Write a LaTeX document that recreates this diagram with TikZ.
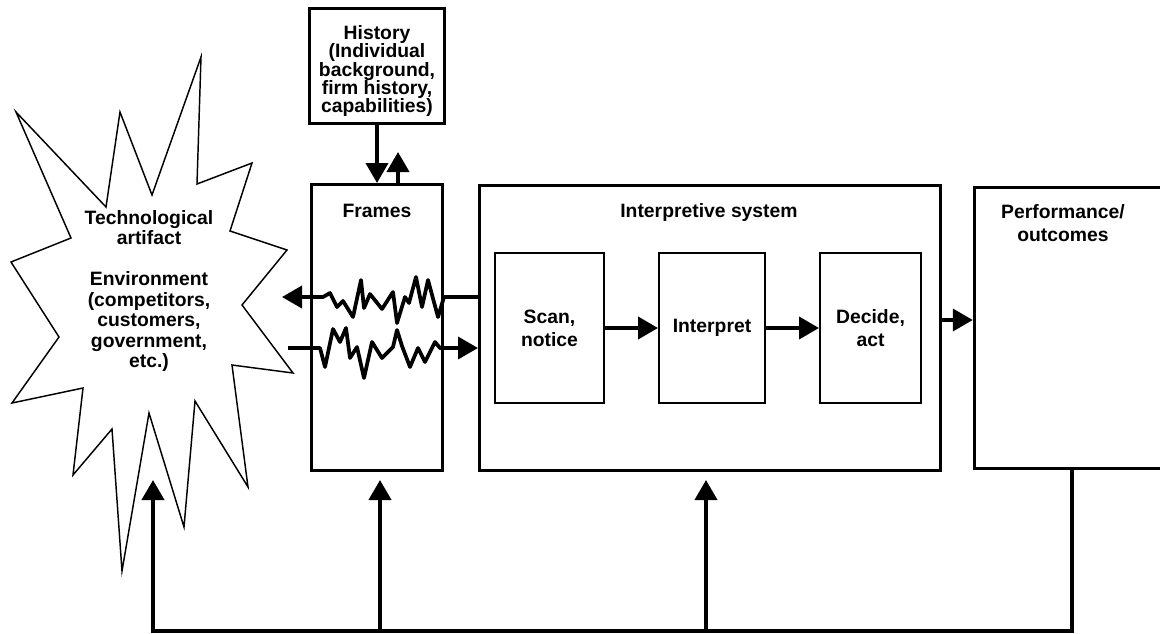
\documentclass[tikz,border=0pt]{standalone}
\usepackage{fontspec}
\setmainfont{Liberation Sans}
\usetikzlibrary{arrows.meta,calc}
\begin{document}
\begin{tikzpicture}[x=0.75pt,y=-0.75pt,
  bx/.style={draw, line width=2.25pt, rectangle, inner sep=0pt},
  ibx/.style={draw, line width=1.5pt, rectangle, inner sep=0pt},
  txt/.style={font=\fontsize{14.5}{17.25}\selectfont\bfseries, align=center, inner sep=0pt},
  arr/.style={line width=3pt, -{Triangle[width=16.5pt,length=15pt]}},
  ln/.style={line width=3pt},
  zz/.style={line width=2.8pt, line join=round},
  burst/.style={draw, line width=1.1pt, line join=miter, miter limit=20},
]
\useasboundingbox (0,0) rectangle (1160,633);
\clip (0,0) rectangle (1160,633);

% starburst (environment)
\draw[burst] (201,57) -- (197,184) -- (252,163) -- (230,231) -- (287,250) -- (242,305)
  -- (293,373) -- (232,365) -- (248,487) -- (195,401) -- (184,527) -- (149,413)
  -- (122,571) -- (112,429) -- (73,475) -- (83,388) -- (12,403) -- (59,337)
  -- (11,262) -- (71,238) -- (16,112) -- (106,207) -- (120,112) -- (152,195) -- cycle;
\node[txt, font=\fontsize{14.5}{15.4}\selectfont\bfseries] (env) at (149,291)
  {Technological\\artifact\\[15.4pt]Environment\\(competitors,\\customers,\\government,\\etc.)};

% boxes
\node[bx, minimum width=101.25pt, minimum height=86.25pt] (hist) at (377,66) {};
\node[txt, font=\fontsize{14.5}{13.6}\selectfont\bfseries] (histt) at (377,71)
  {History\\(Individual\\background,\\firm history,\\capabilities)};

\node[bx, minimum width=98.25pt, minimum height=214.5pt] (frames) at (377,327.5) {};
\node[txt] (framest) at (377,211) {Frames};

\node[bx, minimum width=345.75pt, minimum height=213.75pt] (interp) at (710,328) {};
\node[txt] (interpt) at (709,212) {Interpretive system};

\node[ibx, minimum width=81.75pt, minimum height=112.5pt, txt] (scan) at (549.5,328) {Scan,\\notice};
\node[ibx, minimum width=79.5pt, minimum height=112.5pt, txt] (intp) at (712,328) {Interpret};
\node[ibx, minimum width=75.75pt, minimum height=112.5pt, txt] (dec) at (870.5,328) {Decide,\\act};

\node[bx, minimum width=146.6pt, minimum height=210.75pt] (perf) at (1072,328) {};
\node[txt] (perft) at (1063,223) {Performance/\\outcomes};

% arrows between inner boxes
\draw[arr] (scan.east) -- (intp.west);
\draw[arr] (intp.east) -- (dec.west);
\draw[arr] (interp.east |- 0,320) -- (perf.west |- 0,320);

% history <-> frames
\draw[arr] (hist.south) -- (frames.north);
\draw[arr] ($(frames.north)+(21,0)$) -- ($(hist.south)+(21,27)$);

% zigzag signals through frames
\draw[zz, -{Triangle[width=16.5pt,length=15pt]}] (interp.west |- 0,297) -- (444,297) -- (438,317) -- (428,280)
  -- (422,307) -- (416,277) -- (409,303) -- (405,297) -- (397,323) -- (393,292)
  -- (382,309) -- (370,294) -- (364,308) -- (361,280) -- (353,317) -- (343,301)
  -- (337,307) -- (330,293) -- (323,297) -- (282,297);
\draw[zz, -{Triangle[width=16.5pt,length=15pt]}] (288,348) -- (320,348) -- (325,367) -- (333,329) -- (340,342)
  -- (346,328) -- (350,358) -- (357,347) -- (364,378) -- (372,342) -- (382,358)
  -- (393,347) -- (397,330) -- (402,346) -- (410,367) -- (418,348) -- (425,362)
  -- (435,342) -- (440,348) -- (447,348) -- (interp.west |- 0,348);

% feedback loop
\coordinate (bl) at (153,631);
\coordinate (envtip) at (153,480);
\coordinate (fb1) at (380,631);
\coordinate (fb2) at (706,631);
\draw[arr] (perf.south) |- (bl) -- (envtip);
\draw[arr] (fb1) -- (380,480);
\draw[arr] (fb2) -- (706,480);
\end{tikzpicture}
\end{document}
